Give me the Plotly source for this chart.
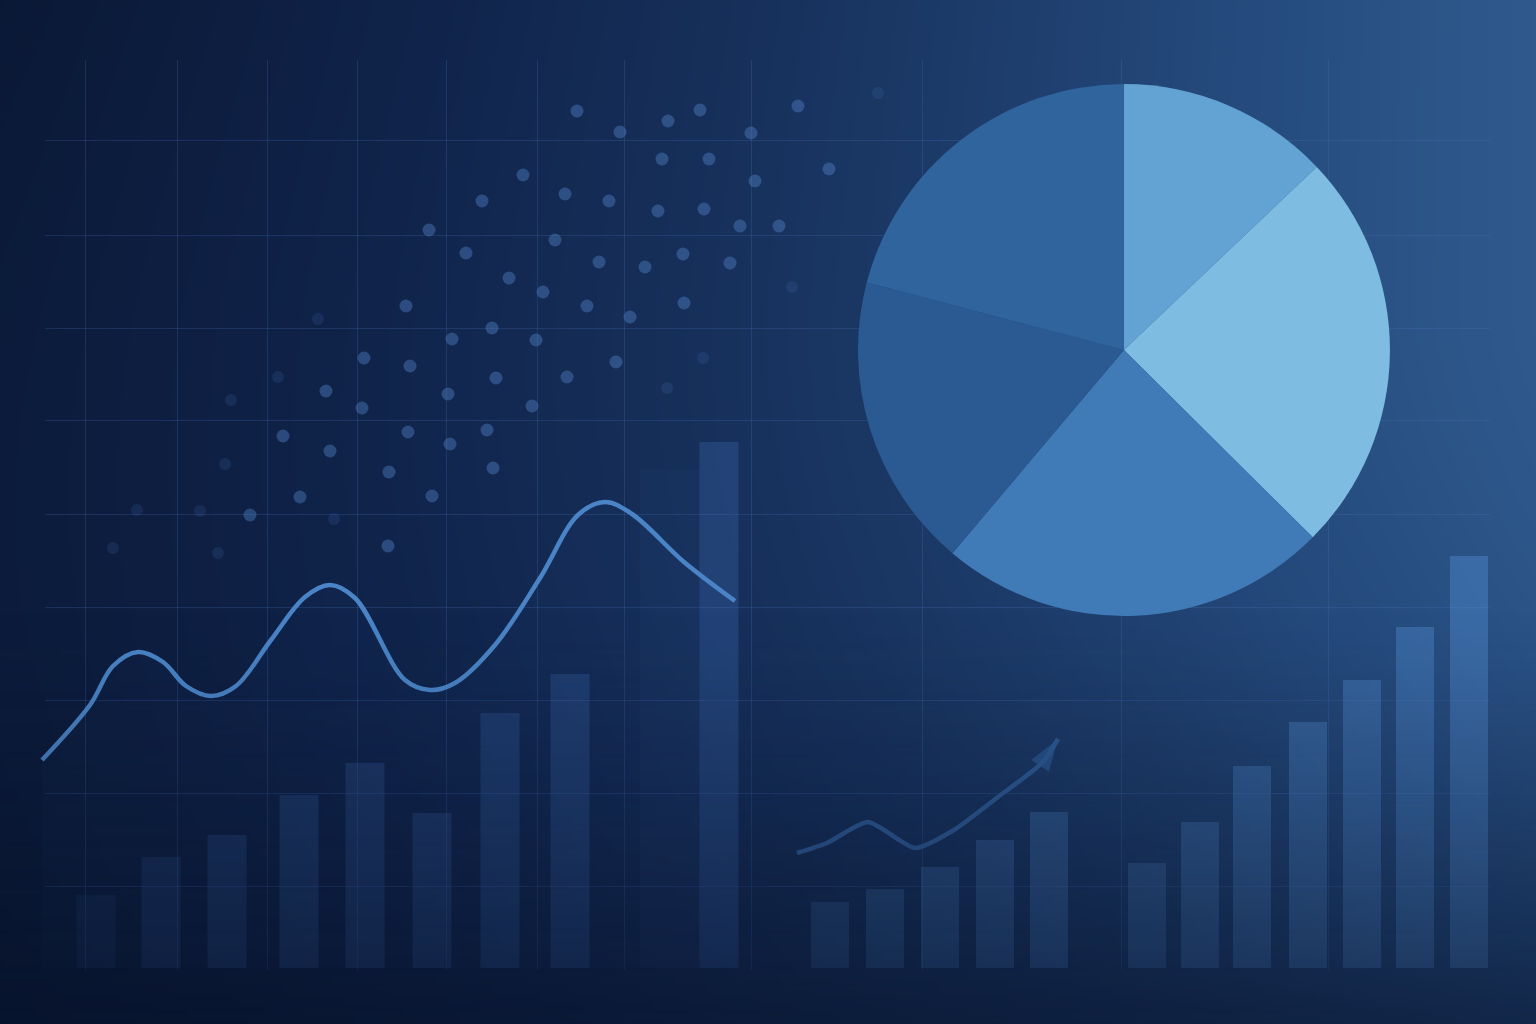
import numpy as np
import plotly.graph_objects as go

# ---------------- data ----------------
# left bar series (period position, value)
left_bar_x = [9.6, 16.1, 22.7, 29.9, 36.5, 43.2, 50.0, 57.0, 71.9]
left_bar_v = [7.3, 11.1, 13.3, 17.3, 20.5, 15.5, 25.5, 29.4, 52.6]
hill_x = [67.0]
hill_v = [49.8]

# left trend line
line_x = [4.2, 9.0, 11.3, 13.8, 16.3, 18.6, 21.1, 23.6, 27.1, 30.5, 33.0, 35.5, 40.5,
          43.0, 45.5, 49.5, 54.0, 57.8, 60.5, 63.2, 68.4, 73.5]
line_v = [20.8, 26.3, 30.2, 31.6, 30.6, 28.2, 27.2, 28.2, 32.8, 37.1, 38.3, 37.0, 28.8,
          27.8, 28.5, 32.3, 39.0, 45.3, 46.6, 45.4, 40.6, 36.7]

# right bar series
right_bar_x = [83.0, 88.5, 94.0, 99.5, 104.9, 114.7, 120.0, 125.2, 130.8, 136.2, 141.5, 146.9]
right_bar_v = [6.6, 7.9, 10.1, 12.8, 15.6, 10.5, 14.6, 20.2, 24.6, 28.8, 34.1, 41.2]

# small arrow trend
arrow_x = [79.7, 82.7, 86.8, 91.5, 95.4, 99.8, 104.2, 105.8]
arrow_v = [11.5, 12.5, 14.6, 12.0, 13.8, 17.1, 20.5, 22.9]

# scatter dots
dot_x = [57.7, 62.0, 66.8, 70.0, 75.1, 79.8, 52.3, 56.5, 60.9, 66.2, 70.9, 75.5, 82.9,
         65.8, 70.4, 74.0, 77.9, 55.5, 59.9, 64.5, 68.3, 73.0, 50.9, 54.3, 58.7, 63.0,
         68.4, 53.6, 48.2, 42.9, 46.6, 40.6, 49.2, 45.2, 36.4, 41.0, 49.6, 44.8, 32.6,
         36.2, 53.2, 56.7, 61.6, 40.8, 48.7, 28.3, 33.0, 45.0, 38.9, 49.3, 30.0, 43.2,
         25.0, 38.8]
dot_y = [85.7, 83.6, 84.7, 85.8, 83.5, 86.2, 79.3, 77.4, 76.7, 80.9, 80.9, 78.7, 79.9,
         75.7, 75.9, 74.2, 74.2, 72.8, 70.6, 70.1, 71.4, 70.5, 69.0, 67.6, 66.2, 65.1,
         66.5, 62.8, 76.7, 73.8, 71.5, 66.2, 64.0, 62.9, 61.0, 60.2, 59.0, 57.4, 57.7,
         56.0, 56.2, 59.1, 60.6, 53.6, 53.8, 53.2, 51.7, 52.4, 49.6, 50.0, 47.1, 47.2,
         45.3, 42.2]
faint_x = [87.8, 79.2, 70.3, 66.7, 31.8, 27.8, 23.1, 22.5, 20.0, 33.4, 21.8, 13.7, 11.3]
faint_y = [87.5, 68.1, 61.0, 58.0, 64.9, 59.1, 56.8, 50.4, 45.7, 44.9, 41.5, 45.8, 42.0]

# pie
pie_labels = ["A", "B", "C", "D", "E"]
pie_values = [12.9, 24.5, 23.7, 17.9, 20.9]

# grid ticks
grid_x = [8.5, 17.7, 26.7, 35.7, 44.6, 53.7, 62.4, 75.1, 92.2, 112.1, 132.8]
grid_y = [82.8, 73.3, 64.0, 54.8, 45.4, 36.1, 26.8, 17.5, 8.2]

# ---------------- background fields ----------------
nx, ny = 90, 70
gx = np.linspace(0, 1, nx)
gy = np.linspace(0, 1, ny)
X, Y = np.meshgrid(gx, gy)
gfac = 1 - 0.3 * np.clip((Y - 0.3) / 0.7, 0, 1) ** 1.5
bg = 0.05 + 0.06 * np.sin(np.pi * Y) * (1 - X) + 0.9 * X ** 1.1 * gfac
vign = np.clip((Y - 0.6) / 0.4, 0, 1) ** 1.2

bg_scale = [[0.0, "#091631"], [0.25, "#0f2248"], [0.5, "#18335f"],
            [0.75, "#24497b"], [1.0, "#325e93"]]

fig = go.Figure()

fig.add_trace(go.Heatmap(x=gx, y=gy, z=bg, colorscale=bg_scale, zmin=0, zmax=1,
                         zsmooth="best", showscale=False, hoverinfo="skip",
                         xaxis="x", yaxis="y"))

# grid subplot holder
fig.add_trace(go.Scatter(x=[None], y=[None], mode="markers", xaxis="x2", yaxis="y2",
                         hoverinfo="skip"))

# left bars
fig.add_trace(go.Bar(x=hill_x, y=hill_v, width=6.0, xaxis="x3", yaxis="y3",
                     marker=dict(color="rgba(70,120,190,0.05)", line=dict(width=0)),
                     hoverinfo="skip"))
left_alpha = [0.13, 0.2, 0.24, 0.25, 0.26, 0.26, 0.27, 0.28, 0.3]
fig.add_trace(go.Bar(x=left_bar_x, y=left_bar_v, width=3.9, xaxis="x3", yaxis="y3",
                     marker=dict(color=[f"rgba(63,110,183,{a})" for a in left_alpha],
                                 line=dict(width=0)),
                     hoverinfo="skip"))

# right bars
right_alpha = [0.22, 0.24, 0.26, 0.28, 0.3, 0.26, 0.3, 0.33, 0.35, 0.37, 0.38, 0.4]
fig.add_trace(go.Bar(x=right_bar_x, y=right_bar_v, width=3.8, xaxis="x3", yaxis="y3",
                     marker=dict(color=[f"rgba(85,145,215,{a})" for a in right_alpha],
                                 line=dict(width=0)),
                     hoverinfo="skip"))

# dots
fig.add_trace(go.Scatter(x=faint_x, y=faint_y, mode="markers", xaxis="x3", yaxis="y3",
                         marker=dict(size=12, color="rgba(80,130,200,0.15)", line=dict(width=0)),
                         hoverinfo="skip"))
fig.add_trace(go.Scatter(x=dot_x, y=dot_y, mode="markers", xaxis="x3", yaxis="y3",
                         marker=dict(size=13, color="rgba(85,135,205,0.40)", line=dict(width=0)),
                         hoverinfo="skip"))

# left line
fig.add_trace(go.Scatter(x=line_x, y=line_v, mode="lines", xaxis="x3", yaxis="y3",
                         line=dict(shape="spline", smoothing=1.0, color="#4a84c6", width=4.5),
                         fill="tozeroy", fillcolor="rgba(70,120,195,0.035)",
                         hoverinfo="skip"))

# arrow line
n = len(arrow_x)
fig.add_trace(go.Scatter(x=arrow_x, y=arrow_v, mode="lines+markers", xaxis="x3", yaxis="y3",
                         line=dict(shape="spline", smoothing=0.6, color="#2e5c98", width=4.5),
                         marker=dict(symbol=["circle"] * (n - 1) + ["arrow"],
                                     size=[0] * (n - 1) + [34], angleref="previous",
                                     color="#2e5c98", line=dict(width=0)),
                         hoverinfo="skip"))

# bottom vignette overlay
fig.add_trace(go.Heatmap(x=gx, y=gy, z=vign,
                         colorscale=[[0, "rgba(6,16,38,0)"], [1, "rgba(6,16,38,0.55)"]],
                         zmin=0, zmax=1, zsmooth="best", showscale=False, hoverinfo="skip",
                         xaxis="x4", yaxis="y4"))

# pie
fig.add_trace(go.Pie(labels=pie_labels, values=pie_values, sort=False,
                     direction="clockwise", rotation=0, textinfo="none",
                     marker=dict(colors=["#63a3d4", "#7fbce2", "#407bb7", "#2b5a92", "#30649d"],
                                 line=dict(width=0)),
                     domain=dict(x=[0.5586, 0.9049], y=[0.3984, 0.9180]),
                     hoverinfo="skip"))

hidden = dict(visible=False, fixedrange=True)
gridc = "rgba(80,125,195,0.22)"
fig.update_layout(
    width=1536, height=1024, margin=dict(l=0, r=0, t=0, b=0),
    paper_bgcolor="#0b1a3a", plot_bgcolor="rgba(0,0,0,0)",
    showlegend=False, barmode="overlay",
    xaxis=dict(domain=[0, 1], range=[0, 1], anchor="y", **hidden),
    yaxis=dict(domain=[0, 1], range=[1, 0], anchor="x", **hidden),
    xaxis2=dict(domain=[0.0293, 0.9701], range=[4.5, 149.0], anchor="y2",
                tickvals=grid_x, showgrid=True, gridcolor=gridc, gridwidth=1,
                showticklabels=False, ticks="", zeroline=False, showline=False,
                fixedrange=True),
    yaxis2=dict(domain=[0.0527, 0.9414], range=[-0.2, 90.8], anchor="x2",
                tickvals=grid_y, showgrid=True, gridcolor=gridc, gridwidth=1,
                showticklabels=False, ticks="", zeroline=False, showline=False,
                fixedrange=True),
    xaxis3=dict(domain=[0, 1], range=[0, 153.6], anchor="y3", **hidden),
    yaxis3=dict(domain=[0, 1], range=[-5.6, 96.8], anchor="x3", **hidden),
    xaxis4=dict(domain=[0, 1], range=[0, 1], anchor="y4", **hidden),
    yaxis4=dict(domain=[0, 1], range=[1, 0], anchor="x4", **hidden),
)

fig.write_html("out.html", config={"displayModeBar": False},
               post_script="document.body.style.margin='0px';document.body.style.background='#0b1a3a';")
